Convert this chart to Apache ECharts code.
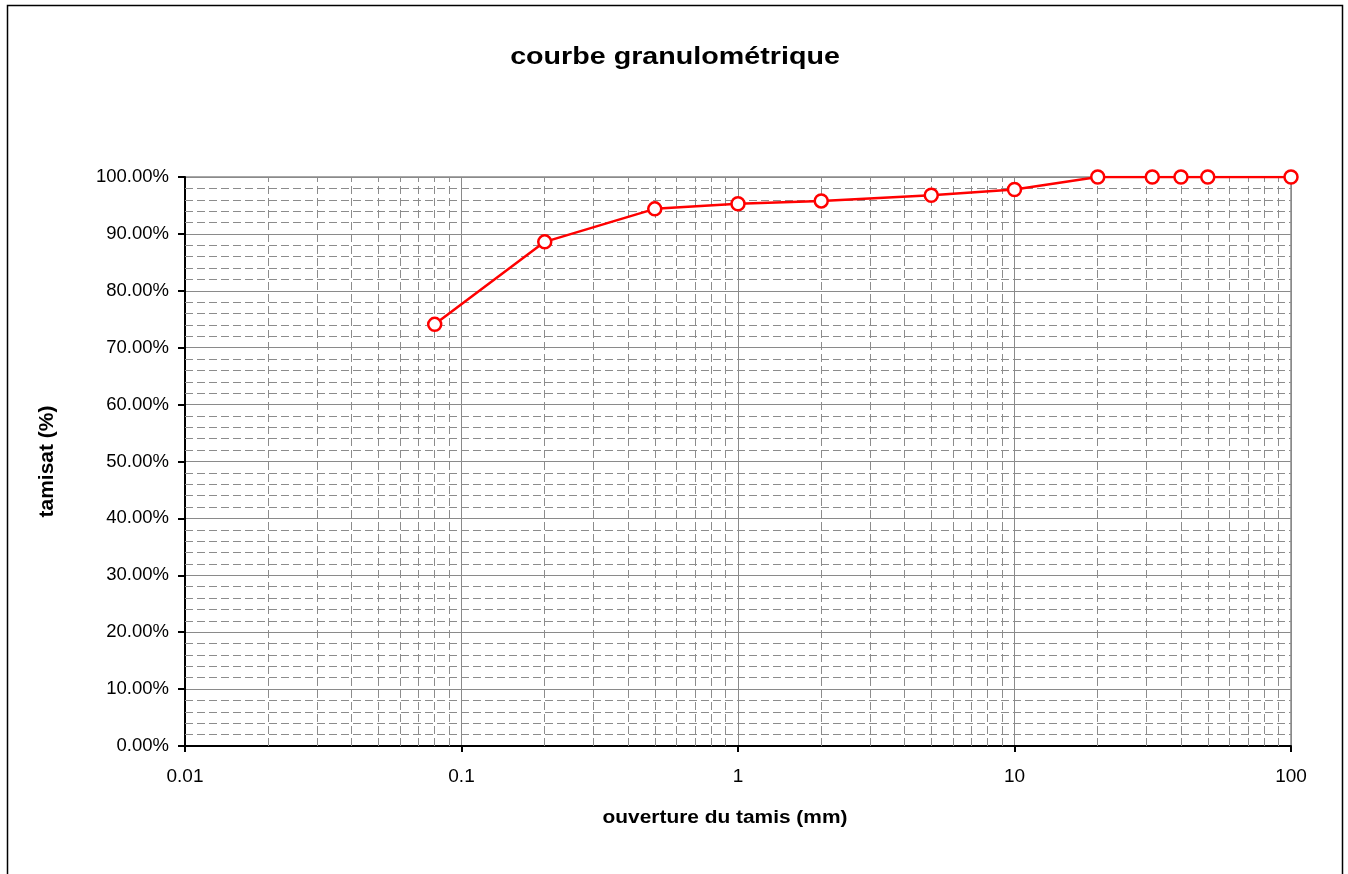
<!DOCTYPE html>
<html>
<head>
<meta charset="utf-8">
<title>courbe granulométrique</title>
<script src="https://cdn.jsdelivr.net/npm/echarts@6/dist/echarts.min.js"></script>
<style>
  html, body { margin: 0; padding: 0; background: #fff; }
  #chart { width: 1348px; height: 874px; }
</style>
</head>
<body>
<div id="chart"></div>
<script>
// Sieve openings (mm) and cumulative passing (%)
const sieveSizes = [0.08, 0.2, 0.5, 1, 2, 5, 10, 20, 31.5, 40, 50, 100];
const passing = [74.1, 88.6, 94.4, 95.3, 95.8, 96.8, 97.8, 100, 100, 100, 100, 100];

// Axis ranges and labels
const xDecades = [0.01, 0.1, 1, 10, 100];
const yTicks = [0, 10, 20, 30, 40, 50, 60, 70, 80, 90, 100];

// Minor grid positions: 2..9 within each decade, and every 2 % between the majors
const xMinor = [];
xDecades.slice(0, -1).forEach(d => {
  for (let k = 2; k <= 9; k++) xMinor.push(+(d * k).toPrecision(3));
});
const yMinor = [];
yTicks.slice(0, -1).forEach(t => {
  for (let k = 2; k <= 8; k += 2) yMinor.push(t + k);
});

const FONT = '"Liberation Sans", Arial, sans-serif';
const minorStyle = { color: '#8c8c8c', width: 1, type: [8, 4] };

const chart = echarts.init(document.getElementById('chart'), null, { renderer: 'canvas' });

chart.setOption({
  animation: false,
  backgroundColor: '#fff',
  graphic: [
    {
      // outer chart frame
      type: 'rect',
      shape: { x: 7.5, y: 5.5, width: 1335, height: 880 },
      style: { fill: null, stroke: '#000', lineWidth: 1.5 },
      silent: true,
      z: -10
    },
    {
      // chart title (slightly widened lettering)
      type: 'text',
      x: 675, y: 57,
      scaleX: 1.17,
      style: {
        text: 'courbe granulométrique',
        font: 'bold 24.5px ' + FONT,
        fill: '#000',
        textAlign: 'center',
        textVerticalAlign: 'middle'
      },
      silent: true
    },
    {
      // x-axis title
      type: 'text',
      x: 725, y: 818,
      scaleX: 1.16,
      style: {
        text: 'ouverture du tamis (mm)',
        font: 'bold 18px ' + FONT,
        fill: '#000',
        textAlign: 'center',
        textVerticalAlign: 'middle'
      },
      silent: true
    }
  ],
  grid: {
    left: 185, right: 57, top: 177, bottom: 128,
    show: true,
    borderColor: '#8a8a8a',
    borderWidth: 1.5
  },
  xAxis: {
    type: 'log',
    logBase: 10,
    min: 0.01,
    max: 100,
    interval: 1,
    axisLine: { onZero: false, lineStyle: { color: '#000', width: 2 } },
    axisTick: { show: true, length: 6, lineStyle: { color: '#000', width: 2 } },
    axisLabel: {
      fontFamily: FONT, fontSize: 19, color: '#000', margin: 21,
      formatter: v => {
        const hit = xDecades.find(d => Math.abs(d - v) / d < 1e-6);
        return hit !== undefined ? String(hit) : '';
      }
    },
    splitLine: { show: true, lineStyle: { color: '#8a8a8a', width: 1 } },
    minorTick: { show: false },
    minorSplitLine: { show: false }
  },
  yAxis: {
    type: 'value',
    min: 0,
    max: 100,
    interval: 10,
    name: 'tamisat (%)',
    nameLocation: 'middle',
    nameGap: 127,
    nameTextStyle: { fontFamily: FONT, fontSize: 21, fontWeight: 'bold', color: '#000' },
    axisLine: { show: true, lineStyle: { color: '#000', width: 2 } },
    axisTick: { show: true, length: 7, lineStyle: { color: '#000', width: 2 } },
    axisLabel: {
      fontFamily: FONT, fontSize: 18.5, color: '#000', margin: 16,
      formatter: v => v.toFixed(2) + '%'
    },
    splitLine: { show: true, lineStyle: { color: '#8a8a8a', width: 1 } }
  },
  series: [{
    type: 'line',
    data: sieveSizes.map((s, i) => [s, passing[i]]),
    symbol: 'circle',
    symbolSize: 13,
    showAllSymbol: true,
    lineStyle: { color: '#ff0000', width: 2.5 },
    itemStyle: { color: '#ffffff', borderColor: '#ff0000', borderWidth: 2.5 },
    z: 5,
    markLine: {
      silent: true,
      symbol: 'none',
      label: { show: false },
      animation: false,
      lineStyle: minorStyle,
      z: 1,
      data: [
        ...xMinor.map(v => ({ xAxis: v })),
        ...yMinor.map(v => ({ yAxis: v }))
      ]
    }
  }]
});
</script>
</body>
</html>
